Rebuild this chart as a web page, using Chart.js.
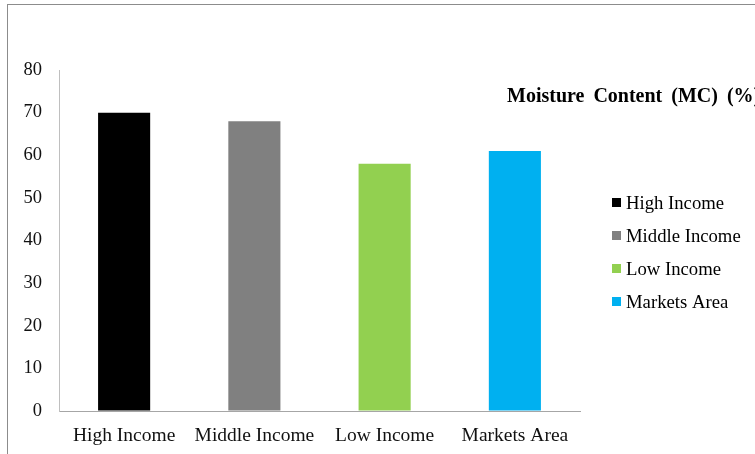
<!DOCTYPE html>
<html>
<head>
<meta charset="utf-8">
<script src="https://cdn.jsdelivr.net/npm/chart.js@4/dist/chart.umd.min.js"></script>
<style>
  html, body { margin: 0; padding: 0; background: #ffffff; overflow: hidden; }
  #wrap { position: relative; width: 755px; height: 454px; }
  #frame { position: absolute; left: 7px; top: 4px; width: 760px; height: 460px;
           border-top: 1px solid #8c8c8c; border-left: 1px solid #8c8c8c; pointer-events: none; }
  canvas { position: absolute; left: 0; top: 0; }
</style>
</head>
<body>
<div id="wrap">
  <canvas id="c" width="755" height="454"></canvas>
  <div id="frame"></div>
</div>
<script>
const categories = ["High Income", "Middle Income", "Low Income", "Markets Area"];
const values = [70, 68, 58, 61];
const colors = ["#000000", "#808080", "#92d050", "#00b0f0"];
const yTicks = [0, 10, 20, 30, 40, 50, 60, 70, 80];
const chartTitle = "Moisture Content (MC) (%)";

const FONT = "'Liberation Serif', 'Times New Roman', serif";

const overlay = {
  id: 'overlay',
  afterDraw(chart) {
    const ctx = chart.ctx;
    ctx.save();
    // title
    ctx.fillStyle = '#000000';
    ctx.font = "bold 20px " + FONT;
    ctx.textBaseline = 'middle';
    ctx.textAlign = 'left';
    const words = chartTitle.split(' ');
    let x = 507;
    words.forEach((w, i) => {
      ctx.fillText(w, x, 97);
      x += ctx.measureText(w).width + 9;
    });
    // legend
    ctx.font = "18.7px " + FONT;
    categories.forEach((c, i) => {
      const y = 203 + i * 33;
      ctx.fillStyle = colors[i];
      ctx.fillRect(612, y - 5, 9, 9);
      ctx.fillStyle = '#000000';
      ctx.fillText(c, 626, y + 1);
    });
    ctx.restore();
  }
};

new Chart(document.getElementById('c'), {
  type: 'bar',
  data: {
    labels: categories,
    datasets: [{
      label: chartTitle,
      data: values,
      backgroundColor: colors,
      borderWidth: 0,
      categoryPercentage: 1.0,
      barPercentage: 0.4
    }]
  },
  options: {
    responsive: false,
    animation: false,
    devicePixelRatio: 1,
    layout: { padding: { left: 0, right: 175, top: 70, bottom: 0 } },
    plugins: { legend: { display: false }, title: { display: false }, tooltip: { enabled: false } },
    scales: {
      x: {
        grid: { display: true, color: 'transparent', drawTicks: false },
        border: { display: true, color: '#a6a6a6', width: 1 },
        ticks: { color: '#111111', font: { family: FONT, size: 19.5 }, padding: 13, maxRotation: 0 },
        afterFit(s) { s.height = 43; }
      },
      y: {
        min: 0, max: 80,
        afterBuildTicks(s) { s.ticks = yTicks.map(v => ({ value: v })); },
        grid: { display: true, color: 'transparent', drawTicks: false },
        border: { display: true, color: '#bfbfbf', width: 1 },
        ticks: { color: '#111111', font: { family: FONT, size: 18.5 }, padding: 17 },
        afterFit(s) { s.width = 59; }
      }
    }
  },
  plugins: [overlay]
});
</script>
</body>
</html>
